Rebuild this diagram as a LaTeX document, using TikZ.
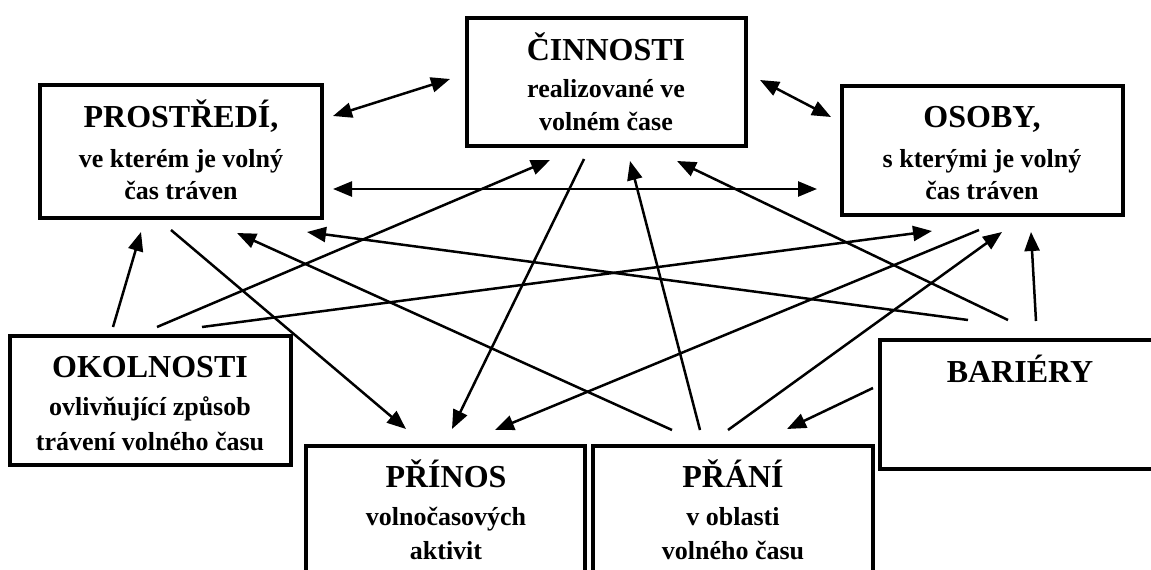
\documentclass[tikz,border=0pt]{standalone}
\usepackage{fontspec}
\setmainfont{Liberation Serif}
\usetikzlibrary{arrows.meta}
\begin{document}
\begin{tikzpicture}[x=1pt,y=-1pt,
  box/.style={draw, line width=3.2pt, inner sep=0pt, outer sep=0pt},
  ttl/.style={anchor=base, inner sep=0pt, font=\fontsize{32}{38}\selectfont\bfseries},
  sub/.style={anchor=base, inner sep=0pt, font=\fontsize{26}{31}\selectfont\bfseries},
  con/.style={line width=2.5pt, -{Triangle[length=19pt,width=15pt]}},
  dcon/.style={line width=2.5pt, {Triangle[length=19pt,width=15pt]}-{Triangle[length=19pt,width=15pt]}}
]
\useasboundingbox (0,0) rectangle (1151,570);
\fill[white] (0,0) rectangle (1151,570);

% boxes
\node[box, minimum width=279pt, minimum height=128pt] (cinnosti) at (606.5,82) {};
\node[box, minimum width=282pt, minimum height=133pt] (prostredi) at (181,151.5) {};
\node[box, minimum width=281pt, minimum height=129pt] (osoby) at (982.5,150.5) {};
\node[box, minimum width=281pt, minimum height=129pt] (okolnosti) at (150.5,400.5) {};
\node[box, minimum width=285pt, minimum height=129pt] (bariery) at (1022.5,404.5) {};
\node[box, minimum width=279pt, minimum height=154pt] (prinos) at (445.5,523) {};
\node[box, minimum width=280pt, minimum height=154pt] (prani) at (733,523) {};

% texts
\node[ttl] (cinT) at (606,60) {ČINNOSTI};
\node[sub] (cinA) at (606,97) {realizované ve};
\node[sub] (cinB) at (606,130) {volném čase};

\node[ttl] (proT) at (181,127) {PROSTŘEDÍ,};
\node[sub] (proA) at (181,167) {ve kterém je volný};
\node[sub] (proB) at (181,199) {čas tráven};

\node[ttl] (osoT) at (982,127) {OSOBY,};
\node[sub] (osoA) at (982,167) {s kterými je volný};
\node[sub] (osoB) at (982,199) {čas tráven};

\node[ttl] (okoT) at (150,377) {OKOLNOSTI};
\node[sub] (okoA) at (150,415) {ovlivňující způsob};
\node[sub] (okoB) at (150,450) {trávení volného času};

\node[ttl] (barT) at (1020,382) {BARIÉRY};

\node[ttl] (priT) at (446,487) {PŘÍNOS};
\node[sub] (priA) at (446,525) {volnočasových};
\node[sub] (priB) at (446,559) {aktivit};

\node[ttl] (praT) at (733,487) {PŘÁNÍ};
\node[sub] (praA) at (733,525) {v oblasti};
\node[sub] (praB) at (733,559) {volného času};

% connector end points
\coordinate (d1a) at (333,116);  \coordinate (d1b) at (450,79);
\coordinate (d2a) at (760,80);   \coordinate (d2b) at (831,117);
\coordinate (d3a) at (333,189);  \coordinate (d3b) at (817,189);

\coordinate (ok1) at (113,327);  \coordinate (pr1) at (141,232);
\coordinate (ok2) at (157,327);  \coordinate (ci1) at (550,160);
\coordinate (ok3) at (202,327);  \coordinate (os1) at (932,231);
\coordinate (pr2) at (171,230);  \coordinate (pn1) at (406,429);
\coordinate (ci2) at (584,159);  \coordinate (pn2) at (452,429);
\coordinate (os2) at (979,230);  \coordinate (pn3) at (495,430);
\coordinate (ba1) at (968,320);  \coordinate (pr3) at (307,232);
\coordinate (ba2) at (1008,320); \coordinate (ci3) at (677,161);
\coordinate (ba3) at (1036,321); \coordinate (os3) at (1031,232);
\coordinate (ba4) at (873,388);  \coordinate (pa1) at (787,429);
\coordinate (pa2) at (672,430);  \coordinate (pr4) at (237,233);
\coordinate (pa3) at (700,430);  \coordinate (ci4) at (630,161);
\coordinate (pa4) at (728,430);  \coordinate (os4) at (1002,232);

% connectors
\draw[dcon] (d1a) -- (d1b);
\draw[dcon] (d2a) -- (d2b);
\draw[dcon] (d3a) -- (d3b);

\draw[con] (ok1) -- (pr1);
\draw[con] (ok2) -- (ci1);
\draw[con] (ok3) -- (os1);
\draw[con] (pr2) -- (pn1);
\draw[con] (ci2) -- (pn2);
\draw[con] (os2) -- (pn3);
\draw[con] (ba1) -- (pr3);
\draw[con] (ba2) -- (ci3);
\draw[con] (ba3) -- (os3);
\draw[con] (ba4) -- (pa1);
\draw[con] (pa2) -- (pr4);
\draw[con] (pa3) -- (ci4);
\draw[con] (pa4) -- (os4);
\end{tikzpicture}
\end{document}
